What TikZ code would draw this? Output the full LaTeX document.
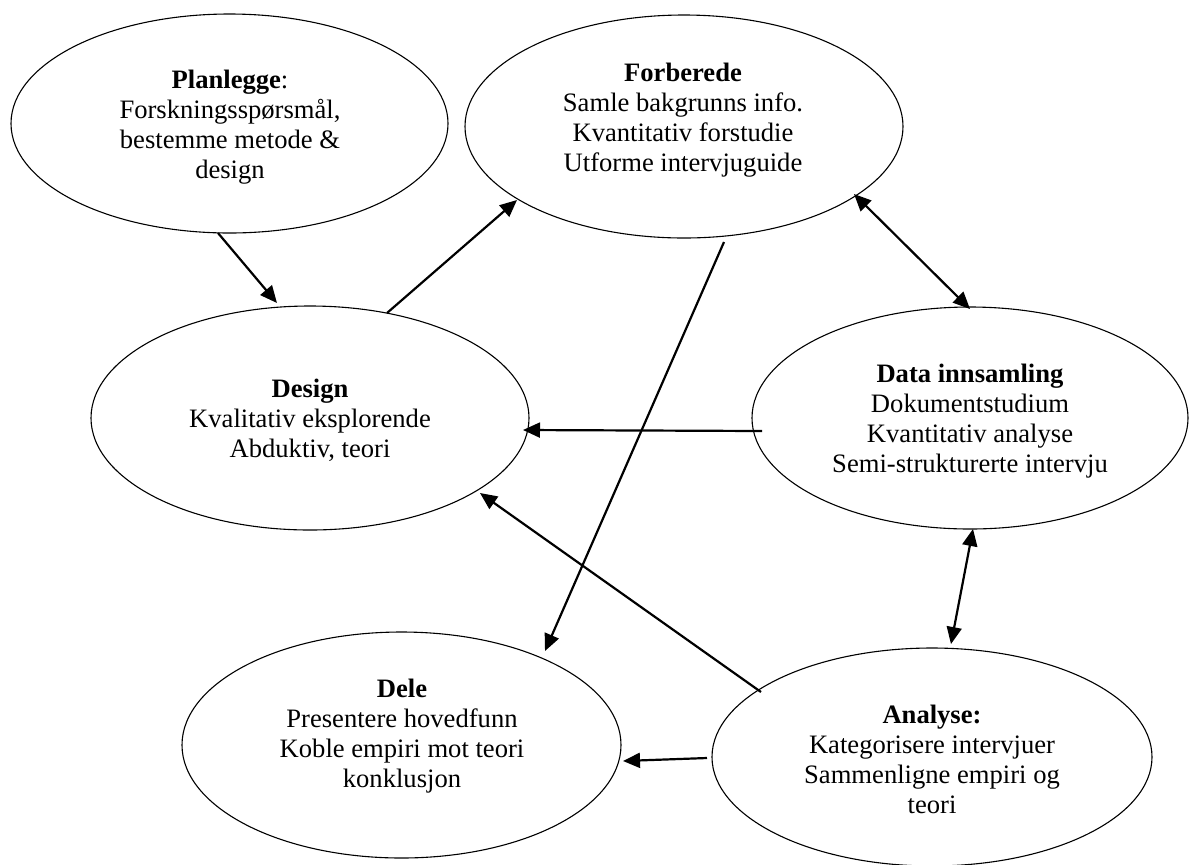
\documentclass[tikz,border=0pt]{standalone}
\usepackage{fontspec}
\setmainfont{Liberation Serif}
\usetikzlibrary{arrows.meta,shapes.geometric}
\begin{document}
\begin{tikzpicture}[x=0.5pt,y=-0.5pt,
  phase/.style={ellipse,draw,line width=0.55pt,inner sep=0pt,outer sep=0pt},
  txt/.style={align=center,inner sep=0pt,font=\fontsize{13.3}{15}\selectfont},
  arr/.style={line width=1.1pt,-{Triangle[length=8.5pt,width=7.5pt]}},
  twoway/.style={line width=1.1pt,{Triangle[length=8.5pt,width=7.5pt]}-{Triangle[length=8.5pt,width=7.5pt]}}]
\useasboundingbox (0,0) rectangle (1189,864);

% phases of the study
\node[phase,minimum width=218.5pt,minimum height=109.5pt] (plan)    at (229.5,123.5) {};
\node[phase,minimum width=219pt,  minimum height=111.5pt] (forb)    at (684,126.5) {};
\node[phase,minimum width=219pt,  minimum height=112pt]   (design)  at (310,418) {};
\node[phase,minimum width=218pt,  minimum height=111pt]   (data)    at (970,418) {};
\node[phase,minimum width=219.5pt,minimum height=113pt]   (dele)    at (401.5,745) {};
\node[phase,minimum width=220pt,  minimum height=109pt]   (analyse) at (932,757) {};

% texts
\node[txt] (plan-t) at (230,127) {\strut\textbf{Planlegge}:\\\strut Forskningsspørsmål,\\\strut bestemme metode \&\\\strut design};
\node[txt] (forb-t) at (683,120) {\strut\textbf{Forberede}\\\strut Samle bakgrunns info.\\\strut Kvantitativ forstudie\\\strut Utforme intervjuguide};
\node[txt] (design-t) at (310,421) {\strut\textbf{Design}\\\strut Kvalitativ eksplorende\\\strut Abduktiv, teori};
\node[txt] (data-t) at (970,421) {\strut\textbf{Data innsamling}\\\strut Dokumentstudium\\\strut Kvantitativ analyse\\\strut Semi-strukturerte intervju};
\node[txt] (dele-t) at (402,736) {\strut\textbf{Dele}\\\strut Presentere hovedfunn\\\strut Koble empiri mot teori\\\strut konklusjon};
\node[txt] (analyse-t) at (932,762) {\strut\textbf{Analyse:}\\\strut Kategorisere intervjuer\\\strut Sammenligne empiri og\\\strut teori};

% connectors
\draw[arr] ([shift={(-11.5,109.5)}]plan.center) -- ([shift={(-33,-115)}]design.center);
\draw[arr] ([shift={(77,-105)}]design.center) -- ([shift={(-167,73.5)}]forb.center);
\draw[arr] ([shift={(40,115.5)}]forb.center) -- ([shift={(143.5,-94)}]dele.center);
\draw[twoway] ([shift={(170,67.5)}]forb.center) -- ([shift={(0,-109)}]data.center);
\draw[arr] ([shift={(-208,13)}]data.center) -- ([shift={(213,12)}]design.center);
\draw[twoway] ([shift={(3,111)}]data.center) -- ([shift={(19,-113)}]analyse.center);
\draw[arr] ([shift={(-171,-65)}]analyse.center) -- ([shift={(170,75)}]design.center);
\draw[arr] ([shift={(-225,1)}]analyse.center) -- ([shift={(221.5,16)}]dele.center);
\end{tikzpicture}
\end{document}
